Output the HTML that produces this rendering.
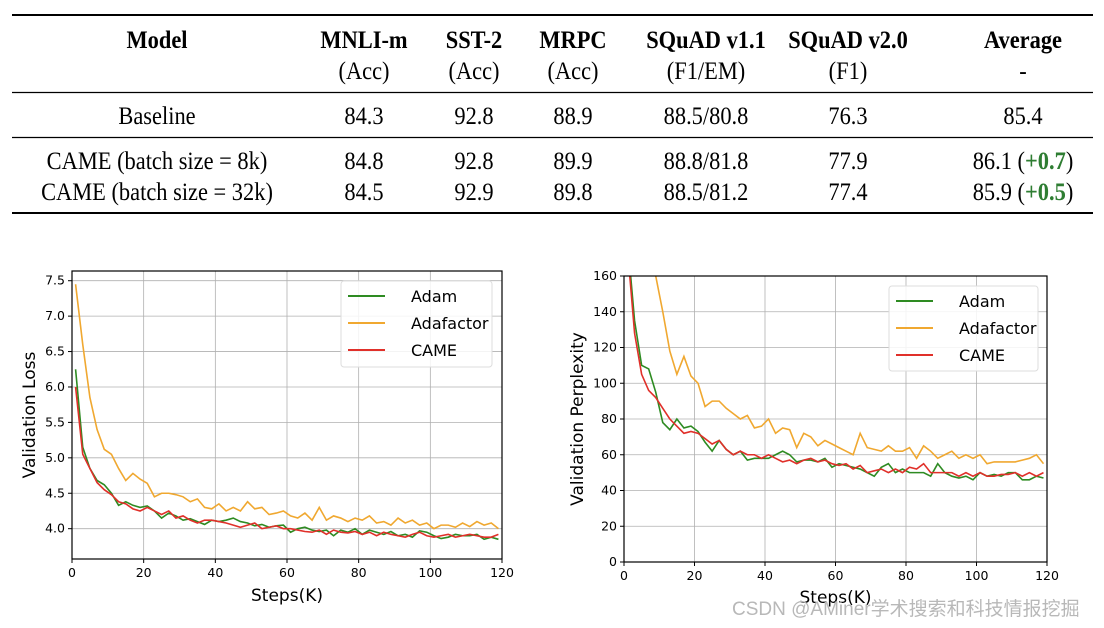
<!DOCTYPE html>
<html><head><meta charset="utf-8"><style>
html,body{margin:0;padding:0;background:#fff;width:1104px;height:628px;overflow:hidden}
svg{display:block}
.t{font-family:"Liberation Serif",serif;font-size:25.5px;fill:#000;text-anchor:middle}
.b{font-weight:bold}
.g{fill:#2e7d32;font-weight:bold}
.tick{font-family:"DejaVu Sans",sans-serif;font-size:12.5px;fill:#000}
.ax{font-family:"DejaVu Sans",sans-serif;font-size:17px;fill:#000}
.lg{font-family:"DejaVu Sans",sans-serif;font-size:16px;fill:#000}
</style></head><body>
<svg id="root" width="1104" height="628">
<g>
<line x1="12" y1="15" x2="1093" y2="15" stroke="#000" stroke-width="2"/>
<line x1="12" y1="92.5" x2="1093" y2="92.5" stroke="#000" stroke-width="1.2"/>
<line x1="12" y1="137.5" x2="1093" y2="137.5" stroke="#000" stroke-width="1.2"/>
<line x1="12" y1="213" x2="1093" y2="213" stroke="#000" stroke-width="2"/>
<g id="tbl"></g>
</g>
<g id="left"></g>
<g id="right"></g>
<text x="732" y="615" font-family="'Liberation Sans','Noto Sans CJK SC',sans-serif" font-size="19" fill="#b8b8b8">CSDN @AMiner学术搜索和科技情报挖掘</text>
</svg>
<script>
const NS="http://www.w3.org/2000/svg";
function mk(p,tag,at,txt){const e=document.createElementNS(NS,tag);for(const k in at)e.setAttribute(k,at[k]);if(txt!==undefined)e.textContent=txt;p.appendChild(e);return e;}
const cols=[157,364,474,573,706,848,1023];
const rows=[
 {y:48,b:true,c:["Model","MNLI-m","SST-2","MRPC","SQuAD v1.1","SQuAD v2.0","Average"]},
 {y:79,b:false,c:["","(Acc)","(Acc)","(Acc)","(F1/EM)","(F1)","-"]},
 {y:124,b:false,c:["Baseline","84.3","92.8","88.9","88.5/80.8","76.3","85.4"]},
 {y:169,b:false,c:["CAME (batch size = 8k)","84.8","92.8","89.9","88.8/81.8","77.9",["86.1 (","+0.7",")"]]},
 {y:200,b:false,c:["CAME (batch size = 32k)","84.5","92.9","89.8","88.5/81.2","77.4",["85.9 (","+0.5",")"]]}];
const tbl=document.getElementById('tbl');
rows.forEach((r,ri)=>r.c.forEach((c,ci)=>{
  if(c==="")return;
  const t=mk(tbl,'text',{class:'t'+(r.b?' b':''),transform:`translate(${cols[ci]},${r.y}) scale(0.88,1)`,x:0,y:0});
  
  
  if(Array.isArray(c)){mk(t,'tspan',{},c[0]);mk(t,'tspan',{class:'g'},c[1]);mk(t,'tspan',{},c[2]);}
  else t.textContent=c;
}));

const steps=[];for(let i=1;i<=119;i+=2)steps.push(i);
const lossAdam=[6.25,5.15,4.85,4.68,4.62,4.50,4.33,4.38,4.33,4.30,4.32,4.25,4.15,4.22,4.18,4.12,4.14,4.10,4.06,4.12,4.10,4.12,4.15,4.10,4.08,4.04,4.06,4.02,4.04,4.05,3.95,4.00,4.02,3.98,3.96,3.98,3.90,3.98,3.95,4.00,3.92,3.98,3.95,3.92,3.96,3.90,3.92,3.88,3.97,3.95,3.90,3.86,3.88,3.92,3.90,3.90,3.92,3.85,3.88,3.85];
const lossAdafactor=[7.45,6.6,5.85,5.4,5.12,5.05,4.85,4.68,4.78,4.70,4.64,4.45,4.50,4.50,4.48,4.45,4.38,4.42,4.30,4.28,4.35,4.25,4.30,4.25,4.38,4.28,4.30,4.20,4.22,4.25,4.18,4.15,4.22,4.12,4.30,4.12,4.18,4.15,4.10,4.15,4.12,4.18,4.08,4.10,4.05,4.15,4.08,4.12,4.05,4.08,4.00,4.05,4.05,4.02,4.08,4.03,4.10,4.05,4.08,4.00];
const lossCame=[6.0,5.05,4.85,4.65,4.55,4.48,4.38,4.35,4.28,4.25,4.30,4.25,4.20,4.25,4.15,4.18,4.12,4.08,4.12,4.12,4.10,4.08,4.05,4.02,4.05,4.08,4.00,4.02,4.04,4.00,4.00,3.98,3.96,3.95,3.98,3.92,3.98,3.95,3.94,3.96,3.92,3.95,3.90,3.95,3.92,3.90,3.88,3.92,3.95,3.90,3.88,3.90,3.92,3.88,3.90,3.92,3.90,3.88,3.88,3.92];
const pplAdam=[180,135,110,108,95,78,74,80,75,76,73,67,62,68,63,60,62,57,58,58,58,60,62,60,56,57,57,56,58,53,55,54,53,52,50,48,53,55,50,52,50,50,50,48,55,50,48,47,48,46,50,48,49,48,50,50,46,46,48,47];
const pplAdafactor=[300,250,200,175,160,140,118,105,115,104,100,87,90,90,86,83,80,82,75,76,80,72,75,74,64,72,70,65,68,66,64,62,60,72,64,63,62,65,62,62,64,58,65,62,58,60,62,58,60,58,60,55,56,56,56,56,57,58,60,55];
const pplCame=[175,128,105,96,92,86,80,76,72,73,72,69,66,68,63,60,62,60,60,58,60,58,56,57,55,57,58,56,57,55,54,55,52,54,50,51,52,50,52,50,53,52,55,50,50,50,50,48,50,48,50,48,48,49,49,50,48,50,48,50];
const xTicks=[0,20,40,60,80,100,120];
const lossTicks=[4.0,4.5,5.0,5.5,6.0,6.5,7.0,7.5];
const pplTicks=[0,20,40,60,80,100,120,140,160];
const names=["Adam","Adafactor","CAME"];
const colors=["#2e8b22","#f0a830","#e0302a"];

function chart(g,id,box,ymin,ymax,yt,ylab,series,leg,ytitleX,xtitleY){
  const {x0,x1,y0,y1}=box;
  const sx=v=>x0+(v-0)/120*(x1-x0), sy=v=>y1-(v-ymin)/(ymax-ymin)*(y1-y0);
  const cp=mk(g,'clipPath',{id:'c'+id});mk(cp,'rect',{x:x0,y:y0,width:x1-x0,height:y1-y0});
  xTicks.forEach(t=>{const x=sx(t);
    const l=mk(g,'line',{x1:x,x2:x,y1:y0,y2:y1,stroke:'#b0b0b0','stroke-width':0.8});
    
    mk(g,'line',{x1:x,x2:x,y1:y1,y2:y1+4,stroke:'#000'});
    const tx=mk(g,'text',{x:x,y:y1+18,class:'tick','text-anchor':'middle'},t);
    });
  yt.forEach(t=>{const y=sy(t);
    const l=mk(g,'line',{x1:x0,x2:x1,y1:y,y2:y,stroke:'#b0b0b0','stroke-width':0.8});
    
    mk(g,'line',{x1:x0-4,x2:x0,y1:y,y2:y,stroke:'#000'});
    const tx=mk(g,'text',{x:x0-7,y:y+4,class:'tick','text-anchor':'end'},ylab(t));
    });
  series.forEach((s,i)=>{
    const p=mk(g,'polyline',{points:s.map((v,j)=>sx(steps[j])+','+sy(v)).join(' '),fill:'none',stroke:colors[i],'stroke-width':1.6,'clip-path':`url(#c${id})`});
    });
  mk(g,'rect',{x:x0,y:y0,width:x1-x0,height:y1-y0,fill:'none',stroke:'#000','stroke-width':1.2});
  const lgd=mk(g,'g',{});
  
  mk(lgd,'rect',{x:leg.x,y:leg.y,width:leg.w,height:leg.h,fill:'#fff','fill-opacity':0.85,stroke:'#ddd',rx:3});
  names.forEach((n,i)=>{const y=leg.y+15+i*27;
    const e=mk(lgd,'g',{});
    mk(e,'line',{x1:leg.x+7,x2:leg.x+44,y1:y,y2:y,stroke:colors[i],'stroke-width':2});
    mk(e,'text',{x:leg.x+70,y:y+6,class:'lg'},n);});
  const yt2=mk(g,'text',{class:'ax','text-anchor':'middle',transform:`translate(${ytitleX},${(y0+y1)/2}) rotate(-90)`},g.id==='left'?'Validation Loss':'Validation Perplexity');
  
  const xt=mk(g,'text',{class:'ax','text-anchor':'middle',x:(x0+x1)/2,y:xtitleY},'Steps(K)');
  
}
chart(document.getElementById('left'),'L',{x0:72,x1:502,y0:271,y1:559},3.572,7.637,lossTicks,t=>t.toFixed(1),[lossAdam,lossAdafactor,lossCame],{x:341,y:281,w:151,h:86},35,601);
chart(document.getElementById('right'),'R',{x0:624,x1:1047,y0:276,y1:562},0,160,pplTicks,t=>t,[pplAdam,pplAdafactor,pplCame],{x:889,y:286,w:149,h:85},583,603);
</script>
</body></html>
